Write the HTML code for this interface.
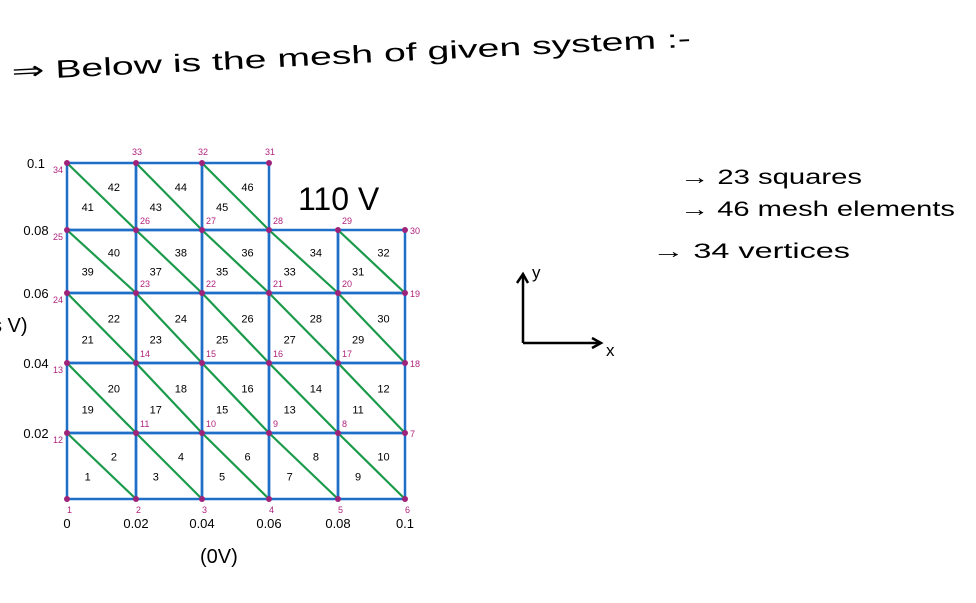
<!DOCTYPE html>
<html><head><meta charset="utf-8"><style>
html,body{margin:0;padding:0;background:#fff;}
svg{display:block;font-family:"Liberation Sans",sans-serif;}
</style></head><body>
<svg id="chart" width="976" height="603" viewBox="0 0 976 603">
<text x="12" y="80" font-size="25" fill="#000" textLength="680" lengthAdjust="spacingAndGlyphs" transform="rotate(-2.8 12 80)">⇒ Below is the mesh of given system :-</text>
<text x="680" y="184" font-size="21" textLength="182" lengthAdjust="spacingAndGlyphs">→ 23 squares</text>
<text x="680" y="216" font-size="21" textLength="275" lengthAdjust="spacingAndGlyphs">→ 46 mesh elements</text>
<text x="652" y="258" font-size="21" textLength="198" lengthAdjust="spacingAndGlyphs">→ 34 vertices</text>
<g stroke="#000" stroke-width="2.5" fill="none">
<line x1="523" y1="343" x2="523" y2="275"/><polyline points="517,283 523,274 528,283"/>
<line x1="523" y1="343" x2="600" y2="343"/><polyline points="592,338 601,343 592,348"/>
</g>
<text x="532" y="278" font-size="17">y</text>
<text x="606" y="356" font-size="17">x</text>
<text x="298" y="210" font-size="32">110 V</text>
<text x="200" y="563" font-size="20">(0V)</text>
<text x="-8" y="332" font-size="20">s V)</text>
<g id="mesh"></g>
</svg>
<script>
const xTicks=[0,0.02,0.04,0.06,0.08,0.1];
const yTicks=[0,0.02,0.04,0.06,0.08,0.1];
const xTickLabels=["0","0.02","0.04","0.06","0.08","0.1"];
const yTickLabels=["0","0.02","0.04","0.06","0.08","0.1"];
const squareCols=[0,1,2,3,4, 0,1,2,3,4, 0,1,2,3,4, 0,1,2,3,4, 0,1,2];
const squareRows=[0,0,0,0,0, 1,1,1,1,1, 2,2,2,2,2, 3,3,3,3,3, 4,4,4];
const lowerElem=[1,3,5,7,9, 19,17,15,13,11, 21,23,25,27,29, 39,37,35,33,31, 41,43,45];
const upperElem=[2,4,6,8,10, 20,18,16,14,12, 22,24,26,28,30, 40,38,36,34,32, 42,44,46];
const nodeCols=[0,1,2,3,4,5, 5,4,3,2,1,0, 0,1,2,3,4,5, 5,4,3,2,1,0, 0,1,2,3,4,5, 3,2,1,0];
const nodeRows=[0,0,0,0,0,0, 1,1,1,1,1,1, 2,2,2,2,2,2, 3,3,3,3,3,3, 4,4,4,4,4,4, 5,5,5,5];
const xPix=[67,136,202,269,338,405];
const yPix=[499,433,363,293,230,163];
function sx(v){const i=Math.round(v/0.02);return xPix[i];}
function sy(v){const i=Math.round(v/0.02);return yPix[i];}
const NS="http://www.w3.org/2000/svg";
const g=document.getElementById('mesh');
function mk(tag,attrs,txt){const e=document.createElementNS(NS,tag);for(const k in attrs)e.setAttribute(k,attrs[k]);if(txt!==undefined)e.textContent=txt;g.appendChild(e);return e;}
squareCols.forEach((c,i)=>{
 const r=squareRows[i];
 const x0=sx(xTicks[c]),x1=sx(xTicks[c+1]),y0=sy(yTicks[r]),y1=sy(yTicks[r+1]);
 const rect=mk('rect',{x:x0,y:y1,width:x1-x0,height:y0-y1,fill:'none',stroke:'#1f6fc8','stroke-width':2.5});
 
 
 const d=mk('line',{x1:x0,y1:y1,x2:x1,y2:y0,stroke:'#1a9a4a','stroke-width':2.2});
 
 
 const w=x1-x0,h=y0-y1;
 const t1=mk('text',{x:x0+w*0.3,y:y1+h*0.72,'font-size':11,'text-anchor':'middle'},String(lowerElem[i]));
 
 
 const t2=mk('text',{x:x0+w*0.68,y:y1+h*0.42,'font-size':11,'text-anchor':'middle'},String(upperElem[i]));
 
 
});
nodeCols.forEach((c,i)=>{
 const r=nodeRows[i];
 const x=sx(xTicks[c]),y=sy(yTicks[r]);
 const dot=mk('circle',{cx:x,cy:y,r:3,fill:'#a0237a'});
 
 
 let lx=x+4,ly=y-6;
 if(r===0){lx=x;ly=y+14;}
 else if(c===0){lx=x-14;ly=y+10;}
 else if(c===5){lx=x+5;ly=y+4;}
 else if(r===5){lx=x-4;ly=y-8;}
 const t=mk('text',{x:lx,y:ly,'font-size':9,fill:'#b0227e'},String(i+1));
 
 
});
xTicks.forEach((v,i)=>{
 const t=mk('text',{x:sx(v),y:528,'font-size':13,'text-anchor':'middle'},xTickLabels[i]);
 
 
});
yTicks.forEach((v,i)=>{
 if(i===0)return;
 const t=mk('text',{x:36,y:sy(v)+5,'font-size':13,'text-anchor':'middle'},yTickLabels[i]);
 
 
});
</script>
</body></html>
